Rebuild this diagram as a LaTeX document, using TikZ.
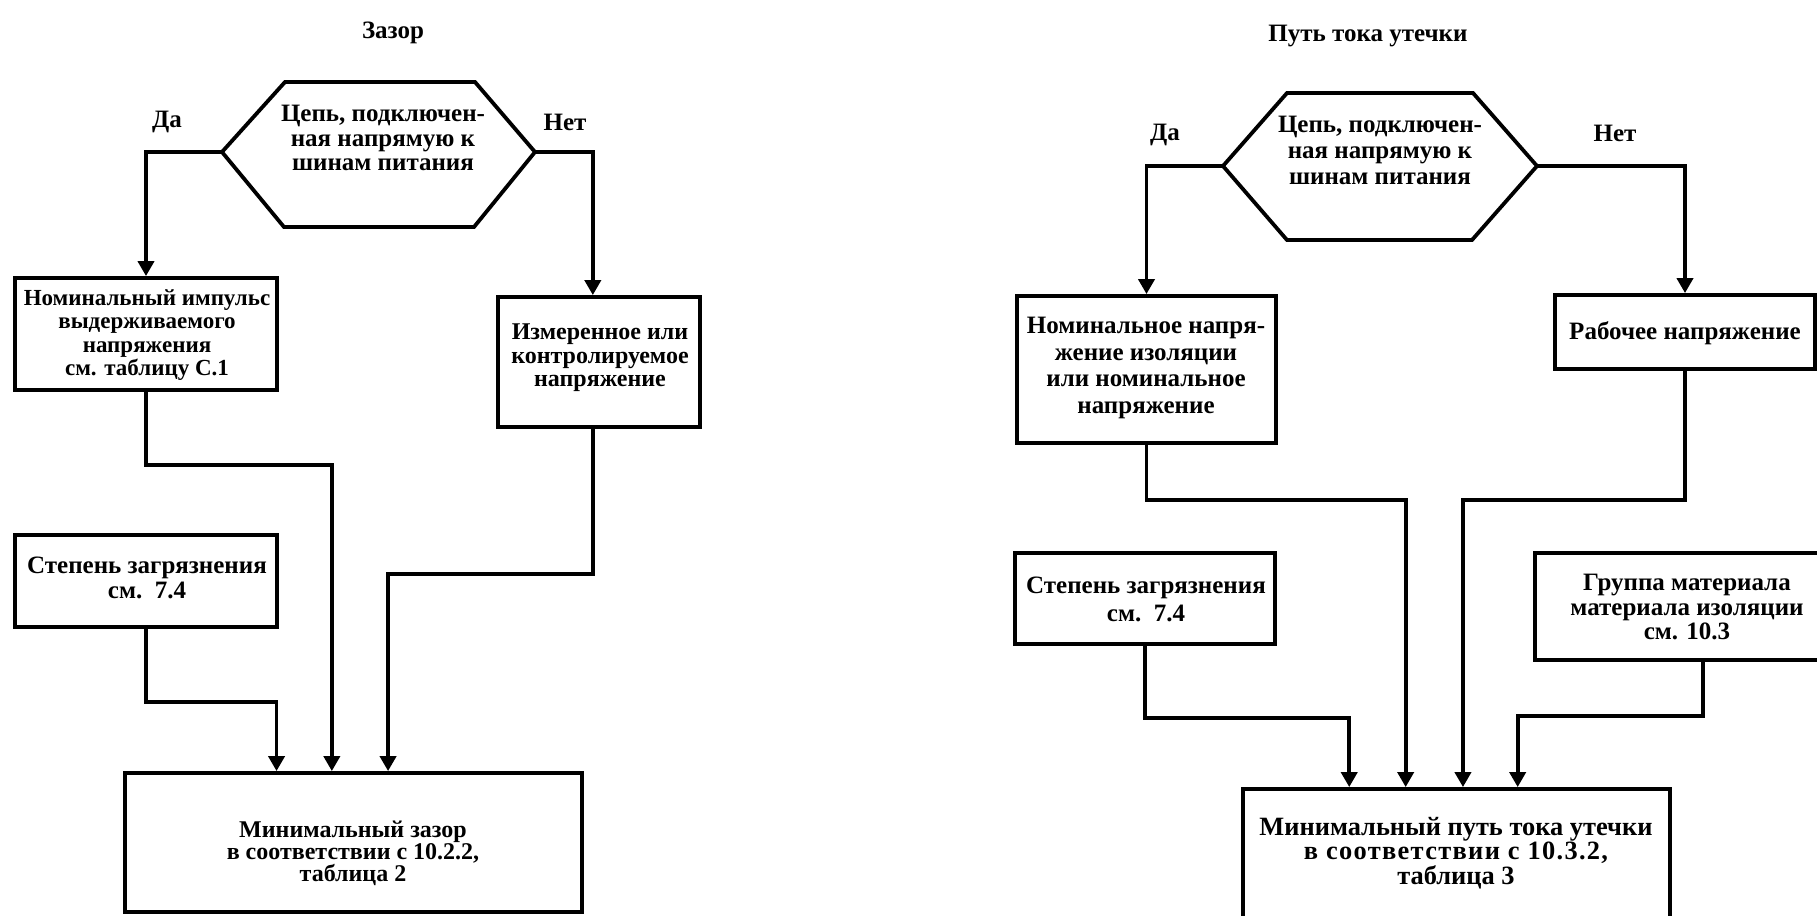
\documentclass[tikz,border=0pt]{standalone}
\usepackage{fontspec}
\setmainfont{Liberation Serif}
\usetikzlibrary{arrows.meta,fit,calc}
\begin{document}
\begin{tikzpicture}[x=0.5pt,y=-0.5pt,
  every node/.style={font=\fontsize{12.5pt}{12.5pt}\selectfont\bfseries},
  flowbox/.style={draw, line width=1.9pt, inner sep=0pt},
  conn/.style={line width=1.9pt, -{Triangle[length=7.5pt,width=8pt]}},
  ln/.style={line width=1.9pt, line join=miter},
  lbl/.style={inner sep=0pt, align=center}
]
\useasboundingbox (0,0) rectangle (1817,916);
\clip (0,0) rectangle (1817,916);

% ---------- left: Зазор ----------
\node[lbl] (t1) at (393,33) {Зазор};
\coordinate (hL1) at (222,152);
\coordinate (hR1) at (535,152);
\draw[ln] (hL1) -- (285,82) -- (475,82) -- (hR1) -- (474,227) -- (284,227) -- cycle;
\node[lbl, font=\fontsize{12.5pt}{12.3pt}\selectfont\bfseries] (q1) at (383,138) {Цепь, подключен-\\ная напрямую к\\шинам питания};
\node[lbl] (da1) at (167,122) {Да};
\node[lbl] (net1) at (565,122) {Нет};

\node[flowbox, fit={(15,278) (277,390)}] (b1) {};
\node[lbl, font=\fontsize{11.5pt}{11.7pt}\selectfont\bfseries] (b1t) at (147,335)
  {Номинальный импульс\\выдерживаемого\\напряжения\\см. таблицу С.1};
\node[flowbox, fit={(498,297) (700,427)}] (b2) {};
\node[lbl, font=\fontsize{12pt}{11.8pt}\selectfont\bfseries] (b2t) at (600,358)
  {Измеренное или\\контролируемое\\напряжение};
\node[flowbox, fit={(15,535) (277,627)}] (b3) {};
\node[lbl] (b3t) at (147,578) {Степень загрязнения\\см.\ \ 7.4};
\node[flowbox, fit={(125,773) (582,912)}] (bL) {};
\node[lbl, font=\fontsize{12pt}{11pt}\selectfont\bfseries] (tL) at (353,853)
  {Минимальный зазор\\в соответствии с 10.2.2,\\таблица 2};

\draw[conn] (hL1) -| (b1.north);
\draw[conn] (hR1) -| ($(b2.north west)!0.47!(b2.north east)$);
\draw[conn] (b1.south) -- ++(0,73) -| ($(bL.north west)!0.453!(bL.north east)$);
\draw[conn] ($(b2.south west)!0.47!(b2.south east)$) -- ++(0,145) -| ($(bL.north west)!0.575!(bL.north east)$);
\draw[conn] (b3.south) -- ++(0,73) -| ($(bL.north west)!0.333!(bL.north east)$);

% ---------- right: Путь тока утечки ----------
\node[lbl] (t2) at (1368,36) {Путь тока утечки};
\coordinate (hL2) at (1223,166);
\coordinate (hR2) at (1537,166);
\draw[ln] (hL2) -- (1287,93) -- (1473,93) -- (hR2) -- (1472,240) -- (1287,240) -- cycle;
\node[lbl, font=\fontsize{12.5pt}{13pt}\selectfont\bfseries] (q2) at (1380,150) {Цепь, подключен-\\ная напрямую к\\шинам питания};
\node[lbl] (da2) at (1165,135) {Да};
\node[lbl] (net2) at (1615,133) {Нет};

\node[flowbox, fit={(1017,296) (1276,443)}] (b4) {};
\node[lbl, font=\fontsize{12.5pt}{13.3pt}\selectfont\bfseries] (b4t) at (1146,368)
  {Номинальное напря-\\жение изоляции\\или номинальное\\напряжение};
\node[flowbox, fit={(1555,295) (1815,369)}] (b5) {};
\node[lbl] (b5t) at (1685,333) {Рабочее напряжение};
\node[flowbox, fit={(1015,553) (1275,644)}] (b6) {};
\node[lbl, font=\fontsize{12.5pt}{14pt}\selectfont\bfseries] (b6t) at (1146,599)
  {Степень загрязнения\\см.\ \ 7.4};
\node[flowbox, fit={(1535,553) (1830,660)}] (b7) {};
\node[lbl, font=\fontsize{12.5pt}{12.3pt}\selectfont\bfseries] (t7) at (1687,607)
  {Группа материала\\материала изоляции\\см. 10.3};
\node[flowbox, fit={(1243,789) (1670,960)}] (bR) {};
\node[lbl, font=\fontsize{13.2pt}{12.3pt}\selectfont\bfseries] (tR) at (1456,853)
  {Минимальный путь тока утечки\\{\addfontfeatures{LetterSpace=5}в соответствии с 10.3.2,}\\таблица 3};

\draw[conn] (hL2) -| (b4.north);
\draw[conn] (hR2) -| (b5.north);
\draw[conn] (b4.south) -- ++(0,55) -| ($(bR.north west)!0.382!(bR.north east)$);
\draw[conn] (b5.south) -- ++(0,129) -| ($(bR.north west)!0.515!(bR.north east)$);
\draw[conn] (b6.south) -- ++(0,72) -| ($(bR.north west)!0.251!(bR.north east)$);
\draw[conn] ($(b7.south west)!0.569!(b7.south east)$) -- ++(0,54) -| ($(bR.north west)!0.642!(bR.north east)$);
\end{tikzpicture}
\end{document}
